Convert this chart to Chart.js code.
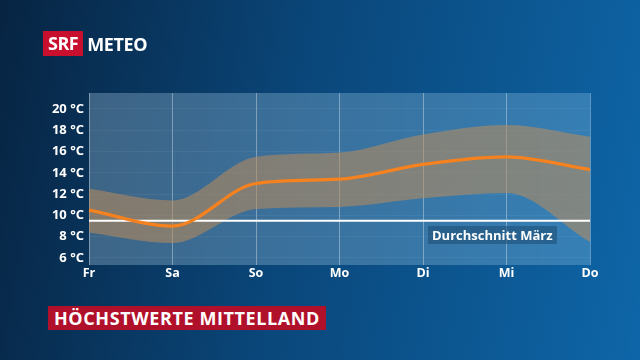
<!DOCTYPE html>
<html>
<head>
<meta charset="utf-8">
<script src="https://cdn.jsdelivr.net/npm/chart.js@4"></script>
<style>
  html, body { margin: 0; padding: 0; }
  body {
    width: 640px; height: 360px; overflow: hidden; position: relative;
    background: linear-gradient(100deg, #072442 0%, #0a4679 45%, #0e66a8 100%);
    font-family: "Open Sans", "Noto Sans", sans-serif;
  }
  #wrap { position: absolute; left: 0; top: 0; width: 640px; height: 360px; }
  .logo { position: absolute; left: 43px; top: 31px; height: 25px; display: flex; align-items: center; }
  .logo .srf { background: #c8102e; color: #fff; font-weight: 700; font-size: 18px; height: 25px; line-height: 25px; padding: 0 5px; letter-spacing: -0.5px; }
  .logo .meteo { color: #fff; font-weight: 700; font-size: 18px; margin-left: 4px; letter-spacing: -0.4px; }
  .title { position: absolute; left: 48px; top: 306px; height: 24px; line-height: 24px; background: #b0102a; color: #fff; font-weight: 700; font-size: 18px; padding: 0 6px; letter-spacing: 0.6px; }
  .avg { position: absolute; left: 428px; top: 226px; height: 18px; line-height: 18px; padding: 0 4px; background: rgba(30, 80, 120, 0.6); color: #fff; font-weight: 700; font-size: 13px; }
</style>
</head>
<body>
<div id="wrap"><canvas id="chart" width="640" height="360"></canvas></div>
<div class="logo"><span class="srf">SRF</span><span class="meteo">METEO</span></div>
<div class="avg">Durchschnitt März</div>
<div class="title">HÖCHSTWERTE MITTELLAND</div>
<script>
const days = ['Fr', 'Sa', 'So', 'Mo', 'Di', 'Mi', 'Do'];
const forecast = [10.5, 9.0, 13.0, 13.4, 14.8, 15.5, 14.3];
const bandHigh = [12.5, 11.4, 15.5, 15.9, 17.6, 18.5, 17.4];
const bandLow = [8.4, 7.4, 10.6, 10.8, 11.6, 12.1, 7.5];
const marchAverage = [9.5, 9.5, 9.5, 9.5, 9.5, 9.5, 9.5];
const yTicks = [6, 8, 10, 12, 14, 16, 18, 20];

const plotBackground = {
  id: 'plotBackground',
  beforeDraw(chart) {
    const { ctx, chartArea: a } = chart;
    const g = ctx.createLinearGradient(a.left, 0, a.right, 0);
    g.addColorStop(0, 'rgba(150, 185, 210, 0.38)');
    g.addColorStop(1, 'rgba(140, 195, 230, 0.32)');
    ctx.save();
    ctx.fillStyle = g;
    ctx.fillRect(a.left, a.top, a.right - a.left, a.bottom - a.top);
    ctx.restore();
  }
};

new Chart(document.getElementById('chart'), {
  type: 'line',
  data: {
    labels: days,
    datasets: [
      { data: forecast, borderColor: '#f5821f', borderWidth: 3.2, pointRadius: 0, cubicInterpolationMode: 'monotone', fill: false, order: 0 },
      { data: marchAverage, borderColor: '#ffffff', borderWidth: 2, pointRadius: 0, fill: false, order: 1 },
      { data: bandHigh, borderWidth: 0, pointRadius: 0, cubicInterpolationMode: 'monotone', fill: '+1', backgroundColor: 'rgba(190, 140, 90, 0.55)', order: 2 },
      { data: bandLow, borderWidth: 0, pointRadius: 0, cubicInterpolationMode: 'monotone', fill: false, order: 3 }
    ]
  },
  options: {
    responsive: false,
    animation: false,
    layout: { padding: { left: 0, right: 50, top: 93, bottom: 0 } },
    plugins: { legend: { display: false }, tooltip: { enabled: false } },
    scales: {
      x: {
        offset: false,
        grid: { color: 'rgba(255,255,255,0.35)', lineWidth: 1, drawTicks: false },
        border: { display: false },
        ticks: { color: '#fff', font: { family: 'Open Sans', weight: 'bold', size: 12.5 }, padding: 1, maxRotation: 0 },
        afterFit(s) { s.height = 95; }
      },
      y: {
        min: 5.34, max: 21.5,
        afterBuildTicks(s) { s.ticks = yTicks.map(v => ({ value: v })); },
        grid: { color: 'rgba(255,255,255,0.05)', drawTicks: false },
        border: { display: false },
        ticks: { color: '#fff', font: { family: 'Open Sans', weight: 'bold', size: 13 }, padding: 5, callback: v => v + ' °C' },
        afterFit(s) { s.width = 89; }
      }
    }
  },
  plugins: [plotBackground]
});
</script>
</body>
</html>
